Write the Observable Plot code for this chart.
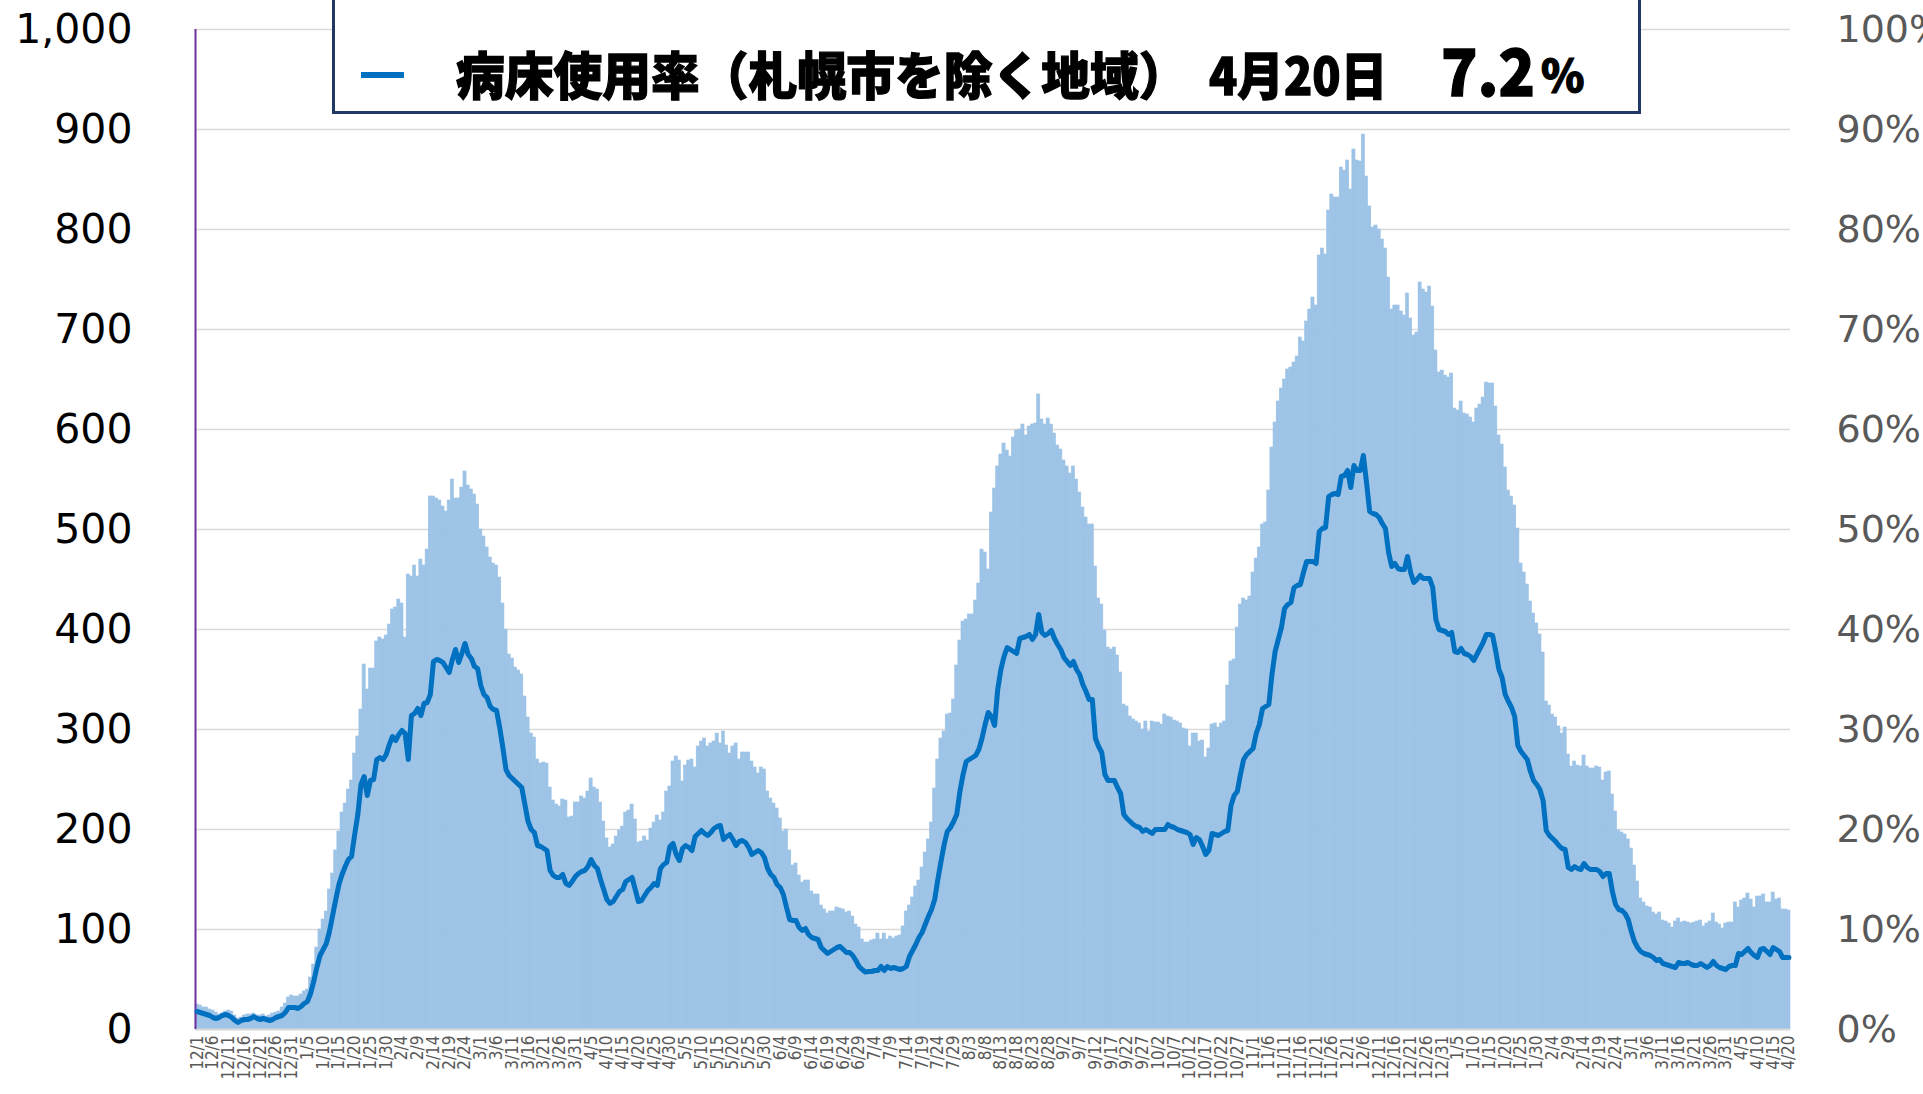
<!DOCTYPE html>
<html><head><meta charset="utf-8">
<script src="https://cdn.jsdelivr.net/npm/d3@7"></script>
<script src="https://cdn.jsdelivr.net/npm/@observablehq/plot@0.6"></script>
<style>
html,body{margin:0;padding:0;background:#fff;overflow:hidden;}
#wrap{position:relative;width:1923px;height:1094px;overflow:hidden;}
#legend{position:absolute;left:332px;top:-8px;width:1309px;height:122px;box-sizing:border-box;border:3px solid #1F3864;background:#fff;}
#legend .dash{position:absolute;left:26px;top:77px;width:43px;height:6px;background:#0070C0;}
#legend .t{position:absolute;white-space:nowrap;font-family:"Noto Sans CJK JP","Noto Sans CJK SC",sans-serif;font-weight:900;color:#000;line-height:1;transform-origin:0 0;-webkit-text-stroke:1.2px #000;}
</style></head>
<body><div id="wrap"><div id="chart"></div>
<div id="legend">
  <div class="dash"></div>
  <div class="t" id="l1" style="left:121px;top:52px;font-size:48px;transform:scale(1.016,1.06);">病床使用率（札幌市を除く地域）</div>
  <div class="t" id="l2" style="left:874px;top:52px;font-size:48px;transform:scale(0.97,1.06);">4月20日</div>
  <div class="t" id="l3" style="left:1106px;top:41px;font-size:60px;transform:scale(1.0,1.08);">7.2</div>
  <div class="t" id="l4" style="left:1206px;top:56px;font-size:44px;">%</div>
</div>
</div>
<script>
// 12/1/2020 .. 4/20/2022, one value per day
const startDate = "2020-12-01";
const patients = [
25,24,22,22,20,19,17,15,16,18,
19,18,14,11,12,14,15,15,16,14,
14,15,13,14,16,17,18,22,26,32,
34,33,33,35,38,40,52,65,82,100,
110,118,140,156,179,198,217,226,240,249,
276,293,320,365,340,361,361,388,392,390,
394,405,420,422,430,426,392,455,453,464,
453,470,464,480,533,533,531,529,523,518,
529,550,531,531,542,558,544,540,535,525,
500,493,482,472,466,464,452,426,400,375,
371,362,359,355,333,312,296,292,270,266,
267,266,242,229,225,223,230,229,212,213,
227,227,233,231,238,251,242,240,227,208,
191,182,185,193,199,203,217,219,225,210,
187,188,193,189,201,207,214,209,217,238,
243,268,273,269,248,264,269,270,262,283,
288,291,283,286,288,296,286,298,284,276,
283,286,270,277,277,277,268,262,256,262,
260,238,231,226,221,211,198,200,179,164,
166,154,147,149,149,138,135,135,124,120,
116,118,118,122,121,120,117,118,113,105,
102,90,87,87,89,90,96,90,96,90,
93,91,93,94,103,118,124,132,143,149,
162,177,190,207,241,270,291,298,315,316,
330,364,389,408,410,415,415,429,446,480,
477,460,517,541,563,575,586,579,573,592,
599,600,605,594,603,605,606,635,610,605,
611,605,596,584,580,569,563,556,563,550,
537,522,512,505,505,463,431,425,399,382,
380,382,374,357,325,323,313,310,308,306,
300,308,298,308,307,307,305,315,313,312,
309,308,306,301,300,283,296,296,288,289,
272,281,305,306,302,306,308,344,368,370,
402,425,431,429,433,457,471,482,505,507,
539,582,607,628,641,650,660,662,667,673,
692,688,708,720,732,724,774,781,775,819,
835,832,832,862,859,869,840,880,869,868,
895,853,823,802,804,800,790,781,752,720,
724,724,718,714,736,711,694,697,747,740,
737,743,723,679,657,659,654,652,656,621,
619,628,616,615,612,607,621,625,632,647,
646,646,623,594,585,562,539,533,524,501,
466,457,445,428,416,406,395,377,328,324,
315,312,303,296,302,275,263,268,264,263,
274,263,261,261,263,262,249,257,258,235,
218,199,197,195,190,181,164,148,131,127,
123,122,117,115,117,109,108,106,102,108,
111,107,108,107,106,107,108,109,103,106,
108,116,107,105,101,106,107,107,127,122,
129,131,136,130,122,133,133,135,127,127,
137,130,131,120,120,119
];
const occupancyPct = [
1.8,1.7,1.6,1.5,1.4,1.2,1.1,1.2,1.4,1.5,
1.4,1.2,0.9,0.7,0.9,1.0,1.0,1.1,1.3,1.1,
1.0,1.1,1.0,0.9,1.0,1.2,1.3,1.4,1.7,2.2,
2.2,2.2,2.1,2.3,2.6,2.8,3.6,4.8,6.2,7.4,
8.0,8.6,9.8,11.4,13.0,14.5,15.5,16.3,17.0,17.3,
19.5,21.5,24.5,25.3,23.4,24.9,25.0,27.0,27.2,27.0,
27.5,28.5,29.3,28.9,29.5,29.9,29.6,27.0,31.4,31.6,
32.1,31.4,32.6,32.7,33.5,36.8,37.0,36.9,36.7,36.2,
35.7,37.0,38.0,36.7,37.6,38.6,37.5,37.1,36.3,36.1,
34.4,33.5,33.2,32.3,32.0,31.9,30.2,28.2,26.0,25.4,
25.1,24.8,24.5,24.2,22.5,20.8,20.0,19.7,18.4,18.3,
18.1,17.9,15.9,15.4,15.2,15.2,15.5,14.6,14.4,14.8,
15.3,15.6,15.8,15.9,16.3,17.0,16.4,16.1,15.0,14.0,
13.0,12.6,12.8,13.3,13.8,14.0,14.8,15.0,15.2,14.0,
12.8,12.9,13.4,13.9,14.2,14.6,14.4,16.1,16.5,16.7,
18.3,18.6,17.5,16.9,18.1,18.4,18.2,17.9,19.3,19.6,
19.9,19.6,19.4,19.7,20.1,20.3,20.4,19.0,19.3,19.5,
19.0,18.4,18.8,18.9,18.7,18.2,17.5,17.7,17.9,17.7,
17.2,16.1,15.5,15.2,14.5,14.2,13.5,12.2,11.0,10.9,
10.9,10.2,9.9,10.1,9.5,9.2,9.1,9.0,8.2,7.9,
7.6,7.8,8.0,8.2,8.3,8.0,7.7,7.7,7.4,6.9,
6.3,6.0,5.75,5.8,5.8,5.9,5.9,6.3,5.9,6.3,
6.1,6.2,6.1,6.0,6.1,6.3,7.3,7.9,8.5,9.2,
9.7,10.5,11.3,12.0,13.0,15.0,16.8,18.5,19.8,20.2,
20.8,21.5,23.8,25.5,26.8,27.0,27.2,27.4,28.0,29.1,
30.5,31.7,31.3,30.4,34.0,36.0,37.3,38.2,38.0,37.8,
37.6,39.1,39.2,39.3,39.5,39.0,39.5,41.5,39.7,39.4,
39.6,39.9,39.1,38.5,38.0,37.2,36.8,36.4,36.8,36.0,
35.5,34.5,33.8,33.0,33.0,29.1,28.3,27.7,25.5,24.9,
24.9,24.9,24.2,23.6,21.5,21.1,20.8,20.5,20.3,20.2,
19.8,20.0,19.8,19.6,20.0,20.0,20.0,20.0,20.5,20.3,
20.2,20.0,19.9,19.8,19.7,19.5,18.5,19.2,19.0,18.3,
17.5,17.9,19.6,19.5,19.4,19.6,19.8,19.9,22.4,23.4,
23.8,25.5,27.0,27.5,27.8,28.1,29.6,30.5,32.1,32.3,
32.5,35.5,37.8,39.0,40.2,42.1,42.5,42.7,44.2,44.4,
44.5,45.7,46.8,46.8,46.8,46.6,49.8,50.1,50.2,53.3,
53.5,53.6,53.5,55.3,55.4,55.9,54.2,56.4,55.9,55.9,
57.4,54.7,51.8,51.6,51.5,51.2,50.6,50.1,47.7,46.3,
46.6,46.1,46.0,46.0,47.3,45.7,44.7,45.0,45.4,45.1,
45.1,45.1,44.2,41.0,40.0,39.9,39.8,39.5,39.7,37.8,
37.7,38.1,37.6,37.5,37.3,36.9,37.5,38.1,38.7,39.5,
39.5,39.4,37.8,36.0,35.2,33.5,32.8,32.2,31.3,28.4,
27.8,27.4,27.0,25.8,24.9,24.5,24.0,22.9,19.9,19.4,
19.1,18.8,18.4,18.1,18.0,16.2,16.0,16.3,16.1,16.0,
16.6,16.2,16.0,16.0,16.0,15.8,15.3,15.6,15.6,13.8,
12.5,12.0,11.9,11.6,11.0,9.8,8.8,8.2,7.8,7.6,
7.5,7.4,7.2,6.9,7.0,6.6,6.5,6.4,6.3,6.2,
6.7,6.6,6.6,6.7,6.5,6.4,6.4,6.6,6.4,6.2,
6.4,6.8,6.4,6.2,6.1,6.0,6.3,6.4,6.4,7.6,
7.5,7.8,8.1,7.7,7.4,7.2,8.0,8.1,7.8,7.5,
8.2,8.0,7.8,7.2,7.2,7.2
];
const leftTicks = [0,100,200,300,400,500,600,700,800,900,1000];
const rightTickLabels = ["0%","10%","20%","30%","40%","50%","60%","70%","80%","90%","100%"];
const tickEvery = 5;

const start = new Date(startDate + "T00:00:00Z");
const n = Math.min(patients.length, occupancyPct.length);
const data = d3.range(n).map(i => ({i, patients: patients[i], pct: occupancyPct[i]}));
const xTicks = d3.range(0, n, tickEvery);
const dayLabel = i => { const d = d3.utcDay.offset(start, i); return `${d.getUTCMonth() + 1}/${d.getUTCDate()}`; };

const chart = Plot.plot({
  width: 1923, height: 1094,
  marginLeft: 195, marginRight: 133, marginTop: 29, marginBottom: 65,
  x: {type: "linear", domain: [-0.5, n - 0.5], label: null},
  y: {domain: [0, 1000], label: null},
  style: {fontFamily: "DejaVu Sans", background: "transparent", overflow: "visible"},
  marks: [
    Plot.gridY({ticks: leftTicks, stroke: "#D9D9D9", strokeOpacity: 1, strokeWidth: 1.5}),
    Plot.rectY(data, {x1: d => d.i - 0.5, x2: d => d.i + 0.5, y: "patients", fill: "#9DC3E6", stroke: "#9DC3E6", strokeWidth: 0.6}),
    Plot.ruleY([0], {stroke: "#D9D9D9", strokeWidth: 2}),
    Plot.ruleX([-0.5], {y1: 0, y2: 1000, stroke: "#7030A0", strokeWidth: 2}),
    Plot.lineY(data, {x: "i", y: d => d.pct * 10, stroke: "#0070C0", strokeWidth: 5, strokeLinejoin: "round"}),
    Plot.axisY({ticks: leftTicks, anchor: "left", label: null, tickSize: 0, tickPadding: 63, tickFormat: d3.format(","), fontSize: 41, color: "#000"}),
    Plot.axisY({ticks: leftTicks, anchor: "right", label: null, tickSize: 0, tickPadding: 46, tickFormat: d => rightTickLabels[leftTicks.indexOf(d)], fontSize: 38, color: "#595959"}),
    Plot.axisX({ticks: xTicks, anchor: "bottom", label: null, tickSize: 0, tickPadding: 6, tickRotate: -90, tickFormat: dayLabel, fontSize: 17, fontFamily: "DejaVu Sans Condensed", color: "#595959"})
  ]
});
document.getElementById("chart").appendChild(chart);
</script>
</body></html>
